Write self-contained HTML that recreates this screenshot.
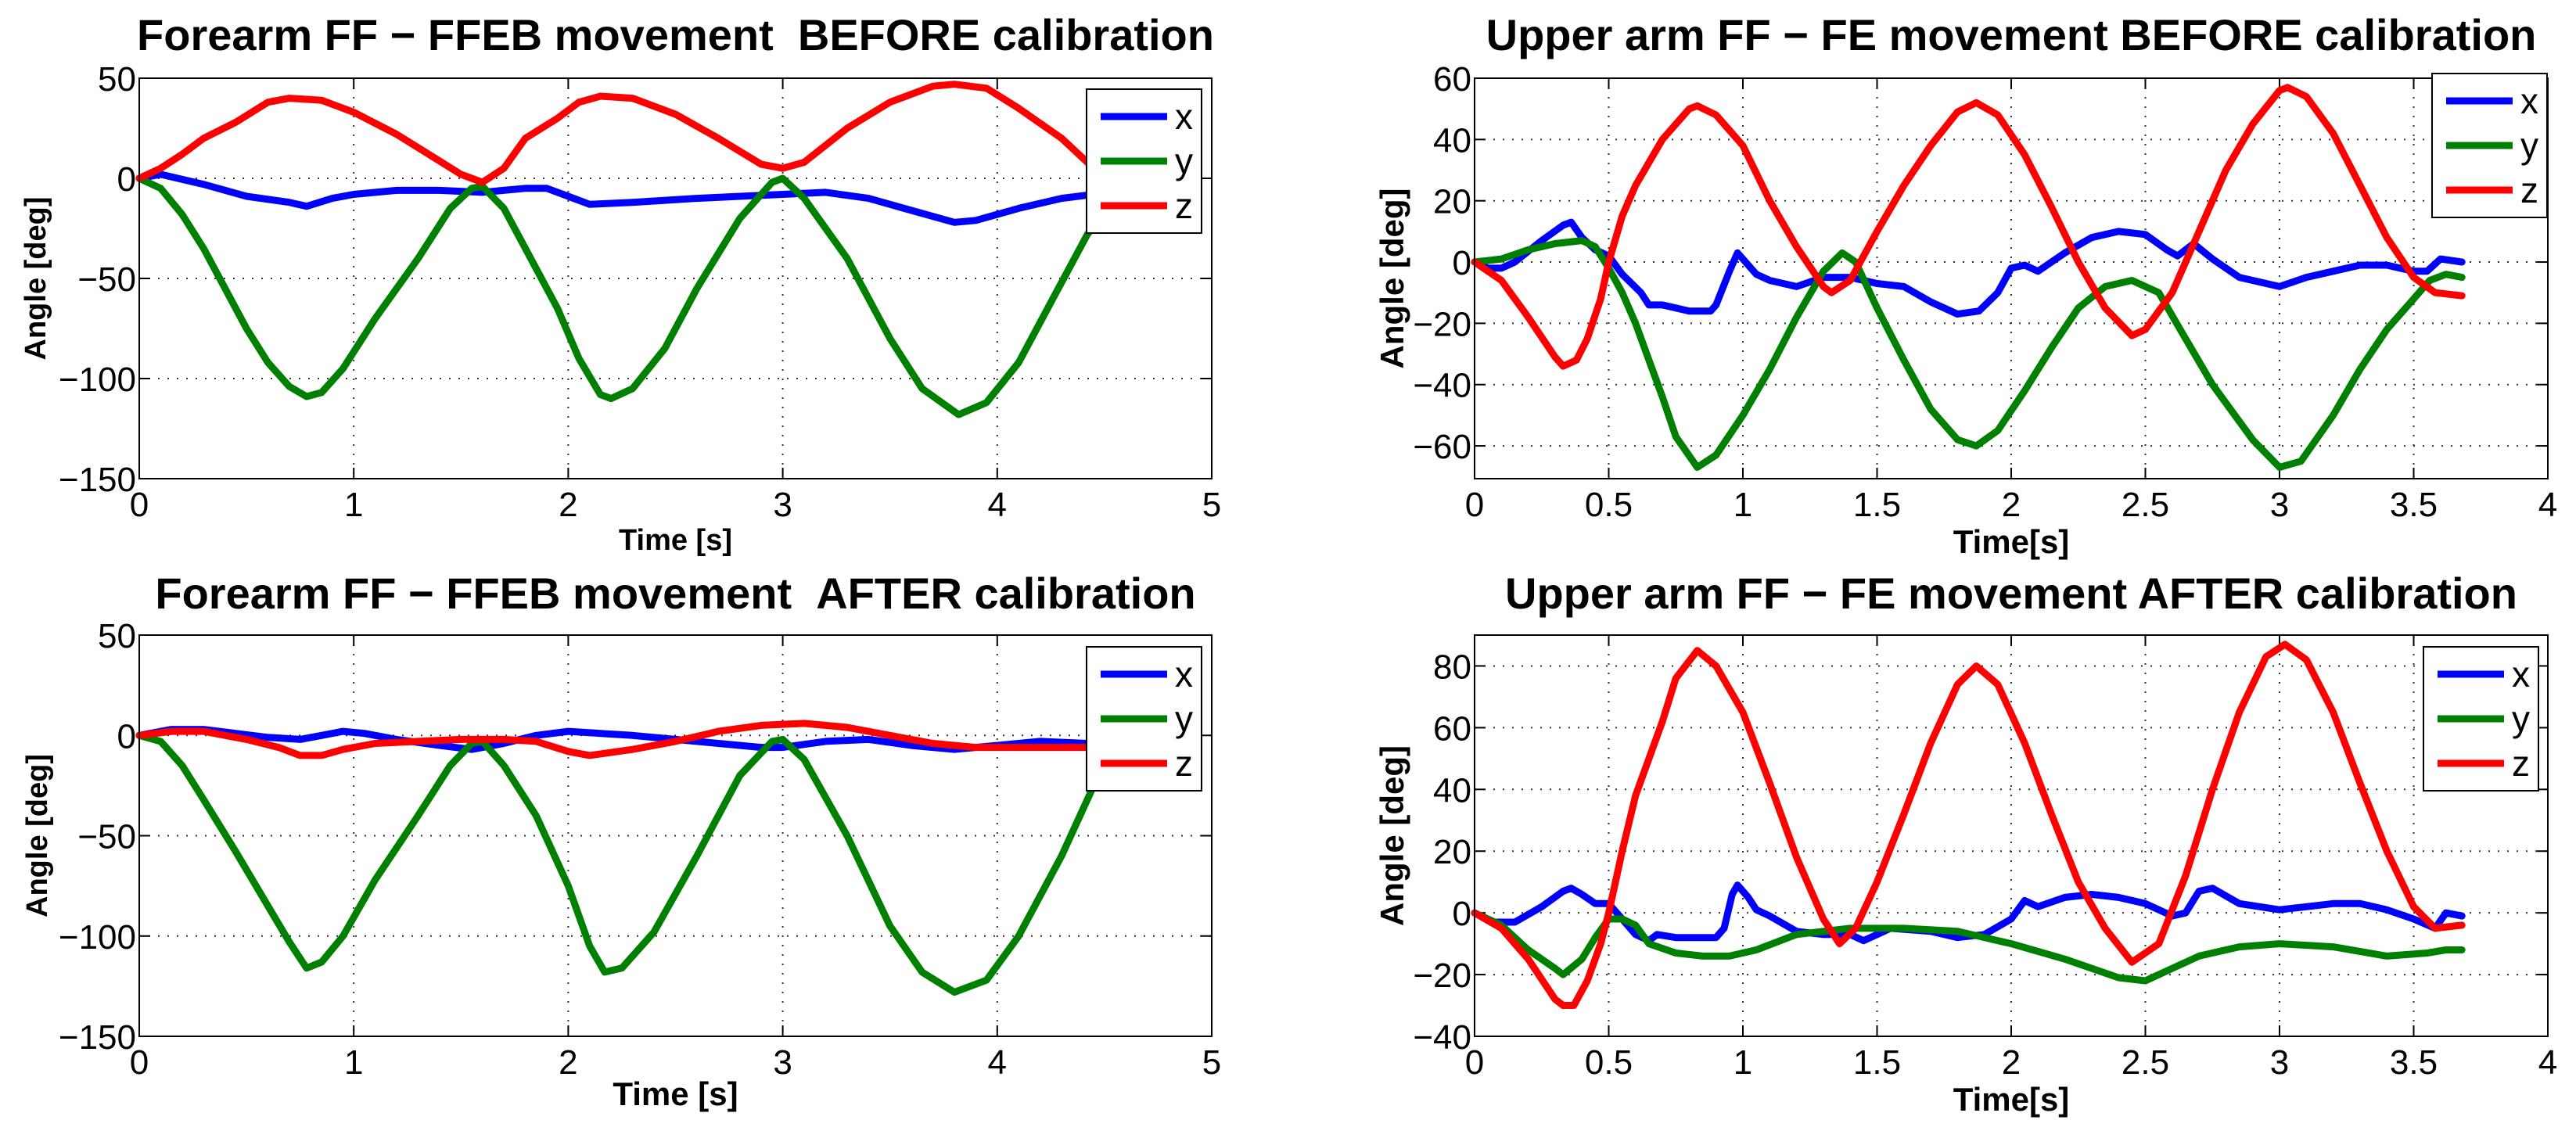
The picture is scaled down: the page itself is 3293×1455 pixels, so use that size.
<!DOCTYPE html>
<html><head><meta charset="utf-8"><style>
html,body{margin:0;padding:0;background:#fff;}
svg{display:block;font-family:"Liberation Sans",Arial,sans-serif;}
</style></head><body>
<svg id="fig" width="3293" height="1455" viewBox="0 0 3293 1455" xmlns="http://www.w3.org/2000/svg"></svg>
<script>
// ---- Forearm BEFORE (top-left)
const tlXt=[0,0.1,0.3,0.5,0.7,0.78,0.9,1.0,1.2,1.4,1.6,1.8,1.9,2.0,2.1,2.3,2.6,2.8,3.0,3.2,3.4,3.6,3.8,3.9,4.1,4.3,4.45];
const tlXv=[0,2,-3,-9,-12,-14,-10,-8,-6,-6,-7,-5,-5,-9,-13,-12,-10,-9,-8,-7,-10,-16,-22,-21,-15,-10,-8];
const tlYt=[0,0.1,0.2,0.3,0.4,0.5,0.6,0.7,0.78,0.85,0.95,1.1,1.3,1.45,1.55,1.6,1.7,1.8,1.95,2.05,2.15,2.2,2.3,2.45,2.6,2.8,2.95,3.0,3.1,3.3,3.5,3.65,3.82,3.95,4.1,4.25,4.42,4.45];
const tlYv=[0,-5,-18,-35,-55,-75,-92,-104,-109,-107,-95,-70,-40,-15,-5,-4,-15,-35,-65,-90,-108,-110,-105,-85,-55,-20,-2,0,-10,-40,-80,-105,-118,-112,-92,-62,-28,-24];
const tlZt=[0,0.1,0.2,0.3,0.45,0.6,0.7,0.85,1.0,1.2,1.35,1.5,1.6,1.7,1.8,1.95,2.05,2.15,2.3,2.5,2.7,2.9,3.0,3.1,3.3,3.5,3.7,3.8,3.95,4.1,4.3,4.45];
const tlZv=[0,5,12,20,28,38,40,39,33,22,12,2,-2,5,20,30,38,41,40,32,20,7,5,8,25,38,46,47,45,35,20,5];
// ---- Upper arm BEFORE (top-right)
const trXt=[0,0.05,0.1,0.15,0.25,0.33,0.36,0.4,0.45,0.5,0.55,0.62,0.65,0.7,0.8,0.88,0.9,0.95,0.98,1.05,1.1,1.2,1.3,1.4,1.5,1.6,1.7,1.8,1.88,1.95,2.0,2.05,2.1,2.2,2.3,2.4,2.5,2.58,2.62,2.68,2.75,2.85,3.0,3.1,3.2,3.3,3.4,3.5,3.55,3.6,3.68];
const trXv=[0,-2,-2,0,7,12,13,8,4,2,-4,-10,-14,-14,-16,-16,-14,-3,3,-4,-6,-8,-5,-5,-7,-8,-13,-17,-16,-10,-2,-1,-3,3,8,10,9,4,2,6,1,-5,-8,-5,-3,-1,-1,-3,-3,1,0];
const trYt=[0,0.1,0.2,0.3,0.4,0.45,0.5,0.55,0.6,0.65,0.7,0.75,0.83,0.9,1.0,1.1,1.2,1.3,1.37,1.42,1.5,1.6,1.7,1.8,1.87,1.95,2.05,2.15,2.25,2.35,2.45,2.55,2.65,2.75,2.9,3.0,3.08,3.2,3.3,3.4,3.5,3.56,3.62,3.68];
const trYv=[0,1,4,6,7,5,-2,-10,-20,-32,-44,-57,-67,-63,-50,-35,-18,-3,3,0,-15,-32,-48,-58,-60,-55,-42,-28,-15,-8,-6,-10,-25,-40,-58,-67,-65,-50,-35,-22,-12,-6,-4,-5];
const trZt=[0,0.1,0.2,0.3,0.33,0.38,0.42,0.47,0.5,0.55,0.6,0.7,0.8,0.83,0.9,1.0,1.1,1.2,1.3,1.33,1.4,1.5,1.6,1.7,1.8,1.87,1.95,2.05,2.15,2.25,2.35,2.45,2.5,2.6,2.7,2.8,2.9,3.0,3.03,3.1,3.2,3.3,3.4,3.5,3.58,3.68];
const trZv=[0,-6,-18,-31,-34,-32,-25,-12,0,15,25,40,50,51,48,38,20,5,-8,-10,-6,10,25,38,49,52,48,35,18,0,-15,-24,-22,-10,10,30,45,56,57,54,42,25,8,-5,-10,-11];
// ---- Forearm AFTER (bottom-left)
const blXt=[0,0.15,0.3,0.45,0.6,0.75,0.85,0.95,1.05,1.2,1.4,1.55,1.7,1.85,2.0,2.15,2.3,2.5,2.7,2.9,3.0,3.2,3.4,3.6,3.8,4.0,4.2,4.42];
const blXv=[0,3,3,1,-1,-2,0,2,1,-2,-5,-7,-4,0,2,1,0,-2,-4,-6,-6,-3,-2,-5,-7,-5,-3,-4];
const blYt=[0,0.1,0.2,0.3,0.45,0.6,0.7,0.78,0.85,0.95,1.1,1.3,1.45,1.55,1.6,1.7,1.85,2.0,2.1,2.17,2.25,2.4,2.6,2.8,2.95,3.0,3.1,3.3,3.5,3.65,3.8,3.95,4.1,4.3,4.45];
const blYv=[0,-3,-15,-32,-58,-85,-103,-116,-113,-100,-72,-40,-15,-4,-3,-15,-40,-75,-105,-118,-116,-98,-60,-20,-3,-2,-12,-50,-95,-118,-128,-122,-100,-60,-25];
const blZt=[0,0.15,0.3,0.5,0.65,0.75,0.85,0.95,1.1,1.3,1.5,1.7,1.85,2.0,2.1,2.3,2.5,2.7,2.9,3.1,3.3,3.5,3.7,3.9,4.1,4.42];
const blZv=[0,2,2,-2,-6,-10,-10,-7,-4,-3,-2,-2,-3,-8,-10,-7,-3,2,5,6,4,0,-4,-6,-6,-6];
// ---- Upper arm AFTER (bottom-right)
const brXt=[0,0.07,0.15,0.25,0.33,0.36,0.4,0.45,0.5,0.55,0.6,0.65,0.68,0.75,0.85,0.9,0.93,0.96,0.98,1.02,1.05,1.1,1.2,1.3,1.4,1.45,1.55,1.7,1.8,1.9,2.0,2.05,2.1,2.2,2.3,2.4,2.5,2.6,2.65,2.7,2.75,2.85,3.0,3.1,3.2,3.3,3.4,3.5,3.58,3.62,3.68];
const brXv=[0,-3,-3,2,7,8,6,3,3,-2,-7,-9,-7,-8,-8,-8,-5,6,9,5,1,-1,-6,-7,-7,-9,-5,-6,-8,-7,-2,4,2,5,6,5,3,-1,0,7,8,3,1,2,3,3,1,-2,-5,0,-1];
const brYt=[0,0.1,0.2,0.3,0.33,0.4,0.45,0.5,0.55,0.6,0.65,0.75,0.85,0.95,1.05,1.2,1.4,1.6,1.8,2.0,2.2,2.4,2.5,2.6,2.7,2.85,3.0,3.2,3.4,3.55,3.62,3.68];
const brYv=[0,-4,-12,-18,-20,-15,-8,-2,-2,-4,-10,-13,-14,-14,-12,-7,-5,-5,-6,-10,-15,-21,-22,-18,-14,-11,-10,-11,-14,-13,-12,-12];
const brZt=[0,0.1,0.2,0.3,0.33,0.37,0.42,0.47,0.5,0.55,0.6,0.7,0.75,0.83,0.9,1.0,1.1,1.2,1.3,1.36,1.42,1.5,1.6,1.7,1.8,1.87,1.95,2.05,2.15,2.25,2.35,2.45,2.55,2.65,2.75,2.85,2.95,3.02,3.1,3.2,3.3,3.4,3.5,3.58,3.68];
const brZv=[0,-5,-15,-28,-30,-30,-22,-10,0,20,38,62,76,85,80,65,42,18,-2,-10,-5,10,32,55,74,80,74,55,32,10,-5,-16,-10,12,40,65,83,87,82,65,42,20,2,-5,-4];

const tlXTicks=[0,1,2,3,4,5], tlYTicks=[-150,-100,-50,0,50];
const trXTicks=[0,0.5,1,1.5,2,2.5,3,3.5,4], trYTicks=[-60,-40,-20,0,20,40,60];
const brYTicks=[-40,-20,0,20,40,60,80];

const NS='http://www.w3.org/2000/svg';
const svg=document.getElementById('fig');
function el(tag,attrs,parent){const e=document.createElementNS(NS,tag);for(const k in attrs)e.setAttribute(k,attrs[k]);(parent||svg).appendChild(e);return e;}
function fmt(v){return (v<0?'\u2212':'')+String(Math.abs(v));}

function panel(cfg){
  const g=el('g',{});
  
  
  const L=cfg.box[0],T=cfg.box[1],R=cfg.box[2],B=cfg.box[3];
  const sx=v=>L+(v-cfg.xlim[0])/(cfg.xlim[1]-cfg.xlim[0])*(R-L);
  const sy=v=>B-(v-cfg.ylim[0])/(cfg.ylim[1]-cfg.ylim[0])*(B-T);
  cfg.xt.forEach(v=>{const x=sx(v);
    if(x>L+1&&x<R-1){const gl=el('line',{x1:x,y1:T,x2:x,y2:B,stroke:'#333','stroke-width':2,'stroke-dasharray':'2 10'},g);
      }
    el('line',{x1:x,y1:B,x2:x,y2:B-14,stroke:'#000','stroke-width':2},g);
    el('line',{x1:x,y1:T,x2:x,y2:T+14,stroke:'#000','stroke-width':2},g);
    const t=el('text',{x:x,y:cfg.xtY,'text-anchor':'middle','font-size':44,fill:'#000'},g);t.textContent=fmt(v);
    });
  cfg.yt.forEach(v=>{const y=sy(v);
    if(y>T+1&&y<B-1){const gl=el('line',{x1:L,y1:y,x2:R,y2:y,stroke:'#333','stroke-width':2,'stroke-dasharray':'2 10'},g);
      }
    el('line',{x1:L,y1:y,x2:L+14,y2:y,stroke:'#000','stroke-width':2},g);
    el('line',{x1:R,y1:y,x2:R-14,y2:y,stroke:'#000','stroke-width':2},g);
    const t=el('text',{x:L-4,y:y+16,'text-anchor':'end','font-size':44,fill:'#000'},g);t.textContent=fmt(v);
    });
  const cols={x:'#0000ff',y:'#008000',z:'#ff0000'};
  cfg.series.forEach(s=>{
    const pts=s.t.map((t,i)=>sx(t).toFixed(1)+','+sy(s.v[i]).toFixed(1)).join(' ');
    const p=el('polyline',{points:pts,fill:'none',stroke:cols[s.k],'stroke-width':9,'stroke-linejoin':'round','stroke-linecap':'round'},g);
    });
  const box=el('rect',{x:L,y:T,width:R-L,height:B-T,fill:'none',stroke:'#000','stroke-width':2},g);
  
  const ti=el('text',{x:(L+R)/2,y:cfg.titleY,'text-anchor':'middle','font-size':56,'font-weight':'bold',fill:'#000'},g);
  ti.textContent=cfg.title;
  const xl=el('text',{x:(L+R)/2,y:cfg.xlY,'text-anchor':'middle','font-size':cfg.xlS,'font-weight':'bold',fill:'#000'},g);
  xl.textContent=cfg.xlabel;
  const yl=el('text',{x:0,y:0,'text-anchor':'middle','font-size':cfg.ylS,'font-weight':'bold',fill:'#000',transform:'translate('+cfg.ylX+','+((T+B)/2)+') rotate(-90)'},g);
  yl.textContent='Angle [deg]';
  const lg=el('g',{},g);
  const lx=cfg.leg[0],ly=cfg.leg[1];
  el('rect',{x:lx,y:ly,width:147,height:184,fill:'#fff',stroke:'#000','stroke-width':2},lg);
  ['x','y','z'].forEach((k,i)=>{const ry=ly+35+i*57;
    el('line',{x1:lx+18,y1:ry,x2:lx+103,y2:ry,stroke:cols[k],'stroke-width':9},lg);
    const t=el('text',{x:lx+113,y:ry+16,'font-size':46,fill:'#000'},lg);t.textContent=k;
    });
}

panel({name:'forearm-before-panel',box:[178,100,1549,612],xlim:[0,5],ylim:[-150,50],xt:tlXTicks,yt:tlYTicks,xtY:660,
  title:'Forearm FF \u2212 FFEB movement \u00a0BEFORE calibration',titleY:64,xlabel:'Time [s]',xlY:703,xlS:38,ylX:58,ylS:38,leg:[1389,114],
  series:[{k:'x',t:tlXt,v:tlXv},{k:'y',t:tlYt,v:tlYv},{k:'z',t:tlZt,v:tlZv}]});
panel({name:'upperarm-before-panel',box:[1885,100,3257,612],xlim:[0,4],ylim:[-70.7,60],xt:trXTicks,yt:trYTicks,xtY:660,
  title:'Upper arm FF \u2212 FE movement BEFORE calibration',titleY:64,xlabel:'Time[s]',xlY:707,xlS:42,ylX:1794,ylS:42,leg:[3109,94],
  series:[{k:'x',t:trXt,v:trXv},{k:'y',t:trYt,v:trYv},{k:'z',t:trZt,v:trZv}]});
panel({name:'forearm-after-panel',box:[178,812,1549,1325],xlim:[0,5],ylim:[-150,50],xt:tlXTicks,yt:tlYTicks,xtY:1373,
  title:'Forearm FF \u2212 FFEB movement \u00a0AFTER calibration',titleY:778,xlabel:'Time [s]',xlY:1413,xlS:42,ylX:60,ylS:38,leg:[1389,827],
  series:[{k:'x',t:blXt,v:blXv},{k:'y',t:blYt,v:blYv},{k:'z',t:blZt,v:blZv}]});
panel({name:'upperarm-after-panel',box:[1885,812,3257,1325],xlim:[0,4],ylim:[-40,90],xt:trXTicks,yt:brYTicks,xtY:1373,
  title:'Upper arm FF \u2212 FE movement AFTER calibration',titleY:778,xlabel:'Time[s]',xlY:1420,xlS:42,ylX:1794,ylS:42,leg:[3098,827],
  series:[{k:'x',t:brXt,v:brXv},{k:'y',t:brYt,v:brYv},{k:'z',t:brZt,v:brZv}]});
</script>
</body></html>
